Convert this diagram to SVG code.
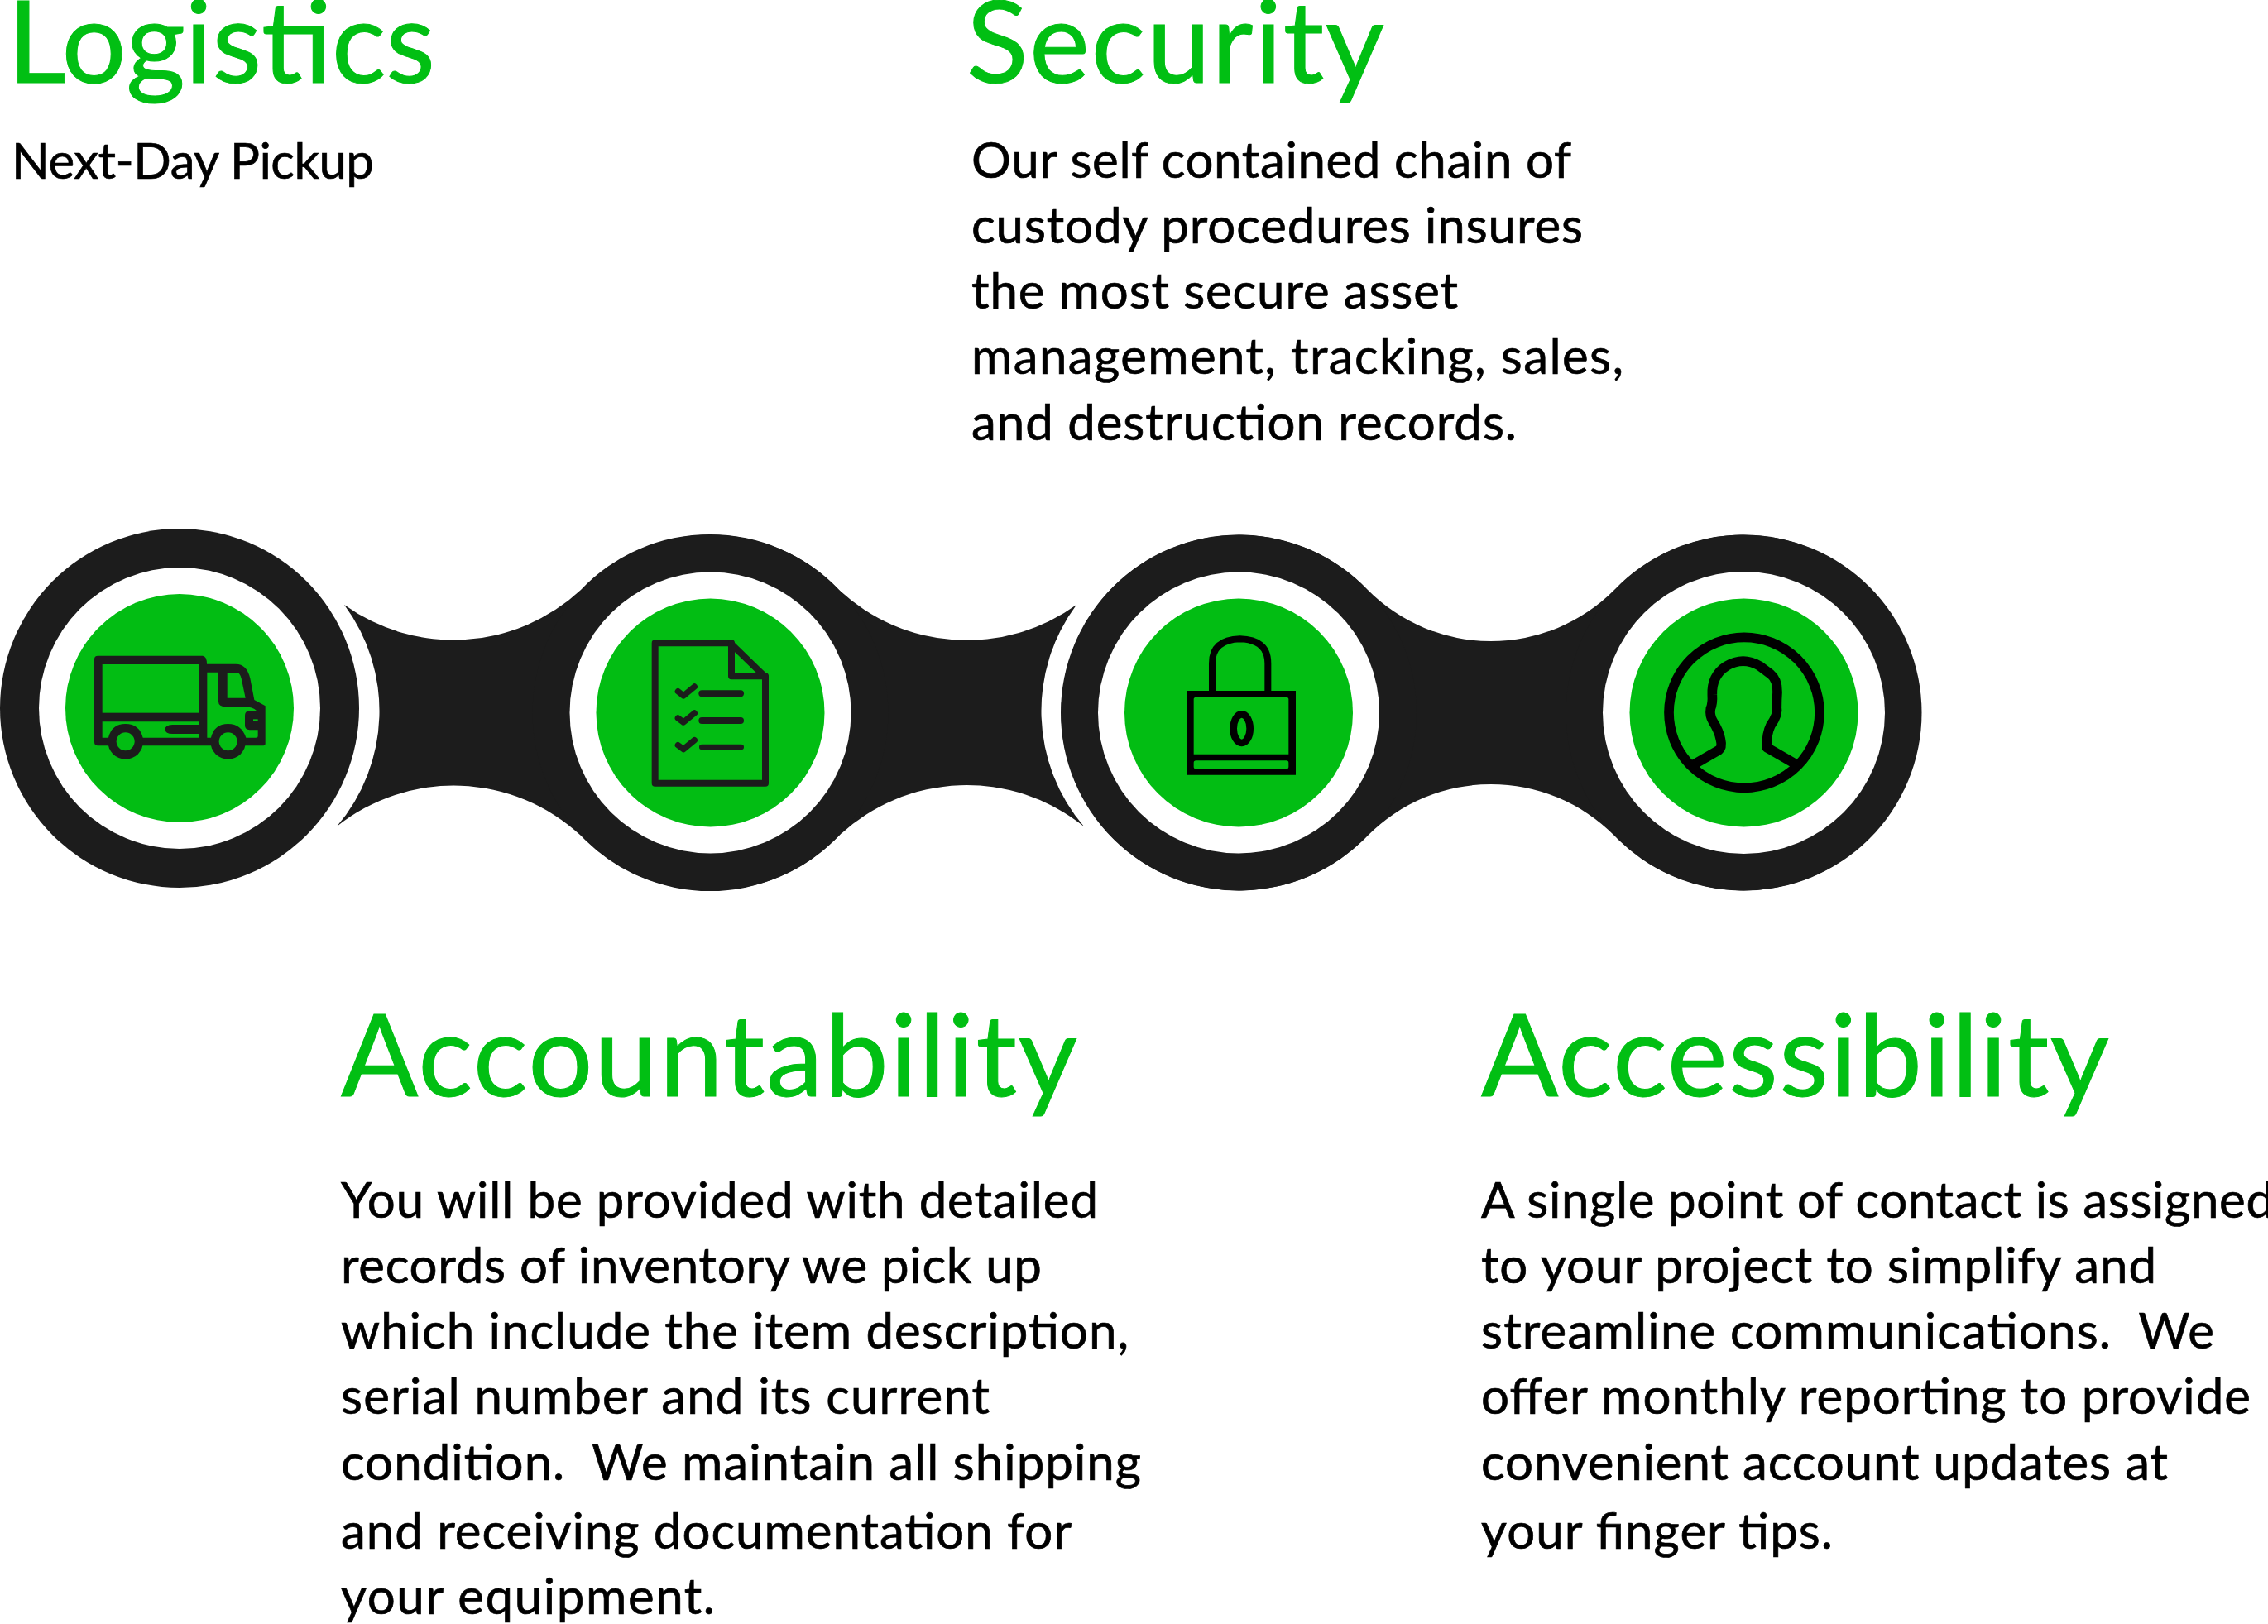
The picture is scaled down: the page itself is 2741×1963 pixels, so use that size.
<svg xmlns="http://www.w3.org/2000/svg" width="2741" height="1963" viewBox="0 0 2741 1963">
<style>
text{font-family:"Lato","Carlito","Open Sans",sans-serif;white-space:pre}
.h{font-size:138px;fill:#01bf13;stroke:#01bf13;stroke-width:1px}
.b{font-size:60px;fill:#000;stroke:#000;stroke-width:.7px}
.band{fill:#1c1c1c}
.hole{fill:#fff}
.disc{fill:#02bd13}
.ik{fill:#1c1c1c}
.ic{fill:#02bd13}
.s1{fill:none;stroke:#1c1c1c;stroke-linecap:round;stroke-linejoin:round}
.s2{fill:none;stroke:#000;stroke-linecap:round;stroke-linejoin:round}
</style>
<rect width="2741" height="1963" fill="#fff"/>
<g id="connectors">
<path class="band" d="M416,731 A226,226 0 0 0 702,713 A215,215 0 0 1 1014,713 A226,226 0 0 0 1301,731 A215,215 0 0 0 1310,999 A226,226 0 0 0 1014,1010 A215,215 0 0 1 702,1010 A226,226 0 0 0 407,999 A215,215 0 0 0 416,731 Z"/>
<path class="band" d="M1653,713 A210,210 0 0 0 1951,713 A215,215 0 1 1 1951,1010 A210,210 0 0 0 1653,1010 A215,215 0 1 1 1653,713 Z"/>
</g>
<g id="node-logistics">
<circle class="band" cx="217" cy="856" r="217"/>
<circle class="hole" cx="217" cy="856" r="170"/>
<circle class="disc" cx="217" cy="856" r="138"/>
<g transform="translate(60,740) scale(.33333)">
<path class="ik" d="M175,158 H555 Q570,160 570,188 H675 Q715,188 727,240 L742,318 L782,340 V478 Q782,484 775,484 H175 Q162,484 162,470 V170 Q162,158 175,158 Z"/>
<circle class="ik" cx="275" cy="469" r="64"/>
<circle class="ik" cx="647" cy="469" r="64"/>
<circle class="ic" cx="275" cy="469" r="33"/>
<circle class="ic" cx="647" cy="469" r="33"/>
<rect class="ic" x="191" y="189" width="349" height="176"/>
<path class="ic" d="M191,397 H540 V408 H445 Q418,410 418,425 Q420,441 445,441 H540 V455 H338 Q325,405 275,405 Q225,405 213,455 H191 Z"/>
<path class="ic" d="M571,218 H612 V325 Q612,342 640,344 H700 Q735,342 750,357 H722 Q708,360 708,375 V410 Q708,425 725,427 H755 V450 Q755,455 748,455 H712 Q695,405 647,405 Q597,405 585,455 H571 Z"/>
<path class="ic" d="M644,219 H680 Q690,220 695,240 L710,311 H644 Z"/>
<rect class="ic" x="738" y="388" width="17" height="8"/>
</g>
<text class="h" x="9" y="99.5" textLength="517">Logistics</text>
<text class="b" x="14" y="215.5" textLength="438">Next-Day Pickup</text>
</g>
<g id="node-accountability">
<circle class="band" cx="858.500" cy="861.5" r="215"/>
<circle class="hole" cx="858.500" cy="861.5" r="170"/>
<circle class="disc" cx="858.500" cy="861.5" r="138"/>
<g transform="translate(740,740) scale(.33333)">
<path class="s1" stroke-width="24" d="M155,112 H428 L555,235 V620 H155 Z"/>
<path class="s1" stroke-width="24" d="M432,112 V232 H555"/>
<path class="s1" stroke-width="22" d="M238,287 L258,303 L298,270"/>
<path class="s1" stroke-width="22" d="M238,384 L258,399 L298,366"/>
<path class="s1" stroke-width="22" d="M238,482 L258,497 L298,464"/>
<path class="s1" stroke-width="24" d="M325,295 H465"/>
<path class="s1" stroke-width="24" d="M325,393 H465"/>
<path class="s1" stroke-width="20" d="M325,489 H467"/>
</g>
<text class="h" x="412" y="1325" textLength="890">Accountability</text>
<text class="b" x="412" y="1472" textLength="915">You will be provided with detailed</text>
<text class="b" x="412" y="1551" textLength="847">records of inventory we pick up</text>
<text class="b" x="412" y="1630" textLength="952">which include the item description,</text>
<text class="b" x="412" y="1709" textLength="784">serial number and its current</text>
<text class="b" x="412" y="1789" textLength="967">condition.  We maintain all shipping</text>
<text class="b" x="412" y="1872" textLength="883">and receiving documentation for</text>
<text class="b" x="412" y="1951" textLength="452">your equipment.</text>
</g>
<g id="node-security">
<circle class="band" cx="1497" cy="861.5" r="215"/>
<circle class="hole" cx="1497" cy="861.5" r="170"/>
<circle class="disc" cx="1497" cy="861.5" r="138"/>
<g transform="translate(1400,740) scale(.33333)">
<path class="s2" stroke-width="24" d="M195,288 V185 Q195,100 296,97 Q397,100 397,185 V288"/>
<path fill="#000" fill-rule="evenodd" d="M105,285 H498 V590 H105 Z M136,308 H464 Q472,308 472,316 V515 H128 V316 Q128,308 136,308 Z M136,538 H464 Q472,538 472,546 V560 Q472,568 464,568 H136 Q128,568 128,560 V546 Q128,538 136,538 Z"/>
<ellipse cx="302" cy="422" rx="30" ry="52" fill="none" stroke="#000" stroke-width="26"/>
</g>
<text class="h" x="1168" y="99.5" textLength="505">Security</text>
<text class="b" x="1174" y="215" textLength="725">Our self contained chain of</text>
<text class="b" x="1174" y="294" textLength="739">custody procedures insures</text>
<text class="b" x="1174" y="373" textLength="588">the most secure asset</text>
<text class="b" x="1174" y="452" textLength="788">management, tracking, sales,</text>
<text class="b" x="1174" y="531.500" textLength="659">and destruction records.</text>
</g>
<g id="node-accessibility">
<circle class="band" cx="2107.500" cy="861.5" r="215"/>
<circle class="hole" cx="2107.500" cy="861.5" r="170.500"/>
<circle class="disc" cx="2107.500" cy="861.5" r="138"/>
<g transform="translate(1990,740) scale(.33333)">
<circle cx="354" cy="364" r="273" fill="none" stroke="#000" stroke-width="35"/>
<path class="s2" stroke-width="35" d="M175,550 L262,500 Q275,490 268,460 Q262,430 240,395 Q228,375 232,350 Q240,330 238,300 Q235,230 290,195 Q350,160 410,195 L450,225 Q475,245 474,290 Q472,320 472,345 Q478,370 450,410 Q435,440 435,490 L530,545"/>
</g>
<text class="h" x="1790" y="1325" textLength="759">Accessibility</text>
<text class="b" x="1790" y="1472" textLength="958">A single point of contact is assigned</text>
<text class="b" x="1790" y="1551" textLength="816">to your project to simplify and</text>
<text class="b" x="1790" y="1630" textLength="886">streamline communications.  We</text>
<text class="b" x="1790" y="1709" textLength="930">offer monthly reporting to provide</text>
<text class="b" x="1790" y="1789" textLength="830">convenient account updates at</text>
<text class="b" x="1790" y="1872" textLength="425">your finger tips.</text>
</g>
</svg>
